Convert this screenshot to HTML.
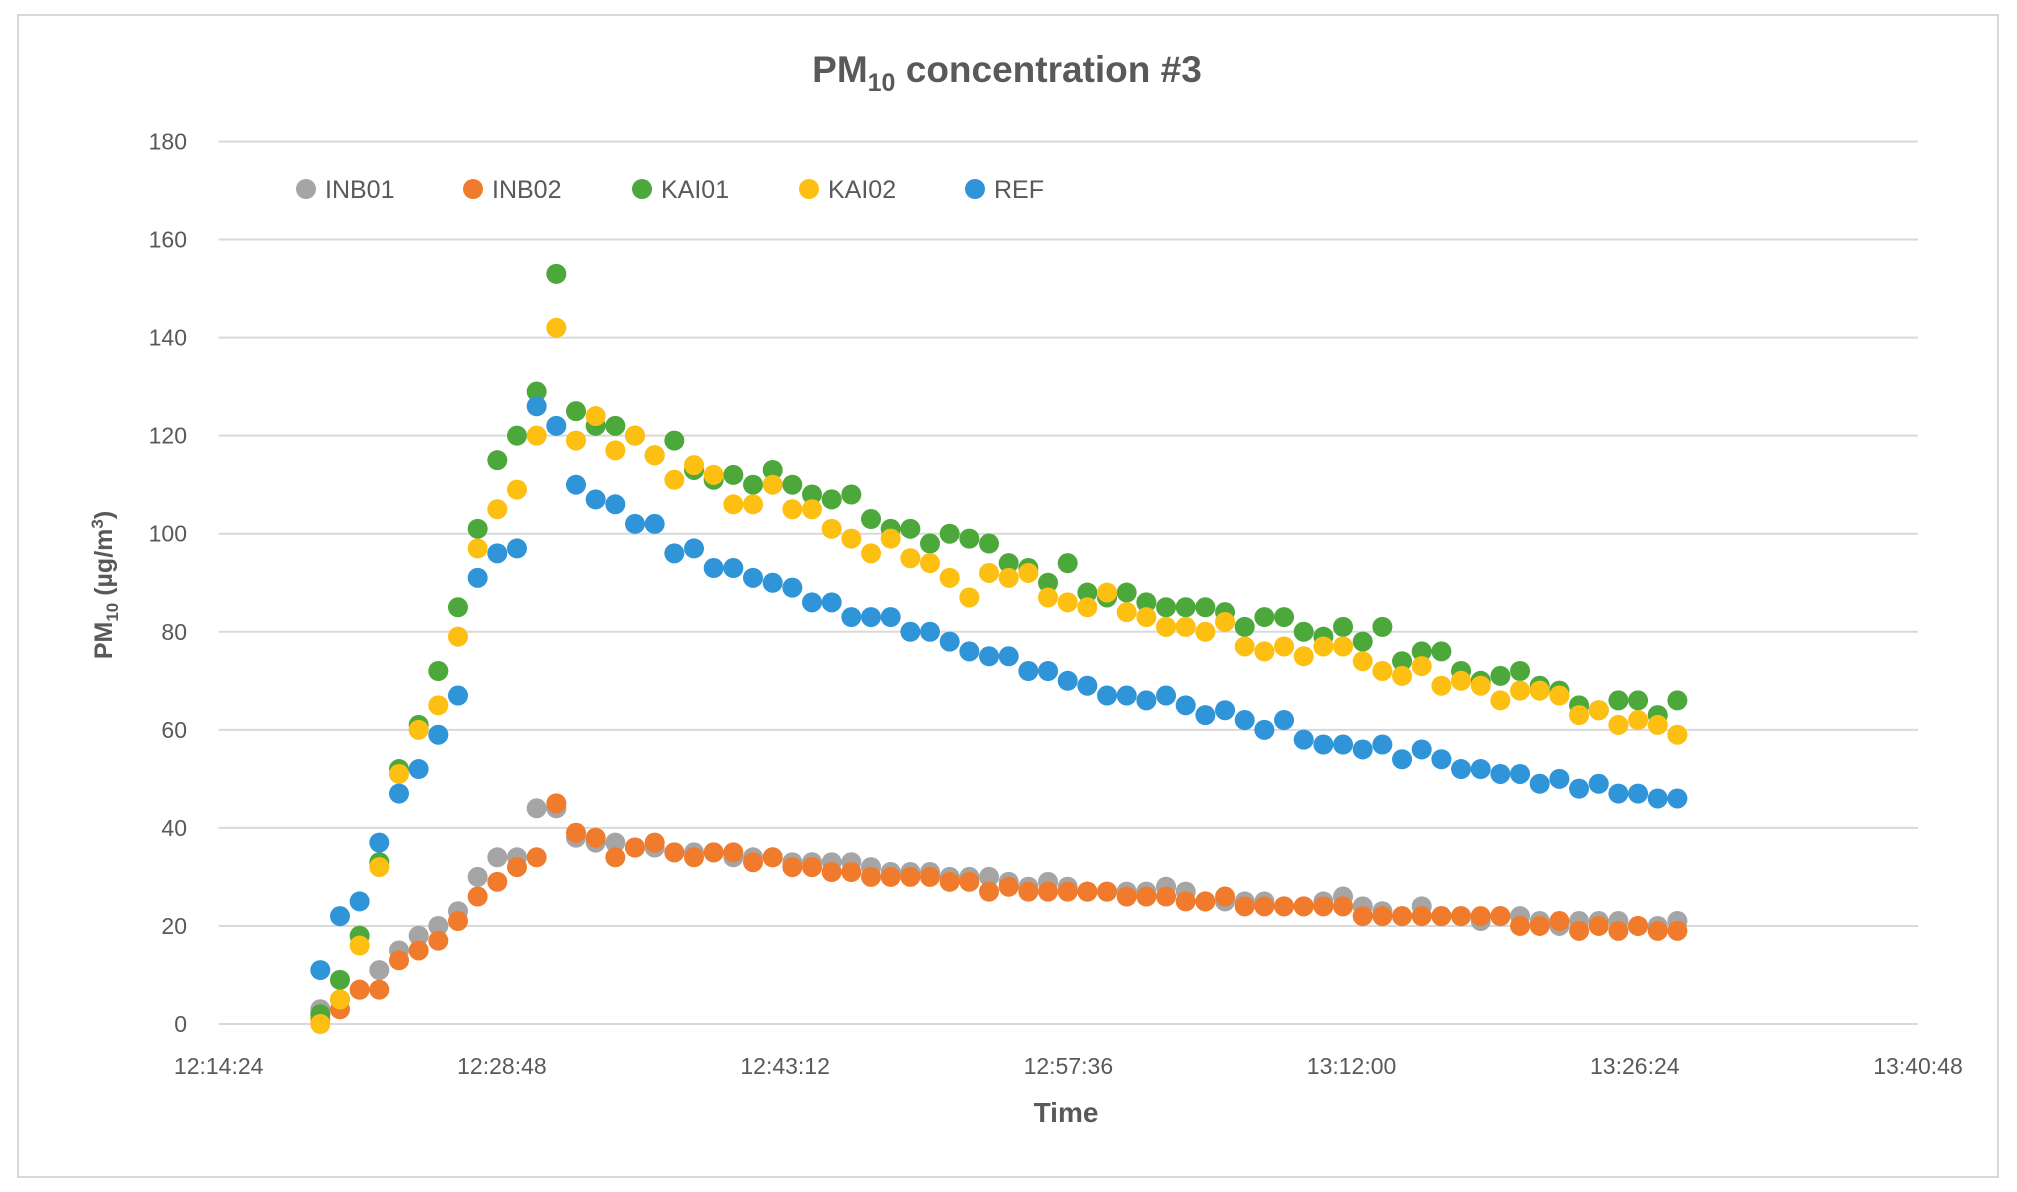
<!DOCTYPE html>
<html><head><meta charset="utf-8">
<style>
html,body{margin:0;padding:0;background:#fff;}
svg{display:block;font-family:"Liberation Sans",sans-serif;}
</style></head>
<body>
<svg id="chart" width="2017" height="1192" viewBox="0 0 2017 1192" xmlns="http://www.w3.org/2000/svg">
<rect x="18" y="15" width="1980" height="1162" fill="#fff" stroke="#d9d9d9" stroke-width="2"/>
<text x="1007" y="82" text-anchor="middle" font-size="37" font-weight="bold" fill="#595959">PM<tspan font-size="25" dy="9">10</tspan><tspan dy="-9"> concentration #3</tspan></text>
<g id="grid"></g>
<g id="yticks"></g>
<g id="xticks"></g>
<text x="1066" y="1122" text-anchor="middle" font-size="28" font-weight="bold" fill="#595959">Time</text>
<text transform="translate(112,585) rotate(-90)" text-anchor="middle" font-size="25" font-weight="bold" fill="#595959">PM<tspan font-size="17" dy="6">10</tspan><tspan dy="-6"> (µg/m</tspan><tspan font-size="17" dy="-9">3</tspan><tspan dy="9">)</tspan></text>
<g id="series"></g>
<g id="legend"></g>
</svg>
<script>
const seriesNames = ["INB01","INB02","KAI01","KAI02","REF"];
const seriesColors = ["#A5A5A5","#F07B2C","#4DA83B","#FDBF12","#2F94D8"];
const yTicks = [0,20,40,60,80,100,120,140,160,180];
const xTickLabels = ["12:14:24","12:28:48","12:43:12","12:57:36","13:12:00","13:26:24","13:40:48"];
const startOffsetSec = 310;
const stepSec = 60;
const inb01 = [3,5,7,11,15,18,20,23,30,34,34,44,44,38,37,37,36,36,35,35,35,34,34,34,33,33,33,33,32,31,31,31,30,30,30,29,28,29,28,27,27,27,27,28,27,25,25,25,25,24,24,25,26,24,23,22,24,22,22,21,22,22,21,20,21,21,21,20,20,21];
const inb02 = [1,3,7,7,13,15,17,21,26,29,32,34,45,39,38,34,36,37,35,34,35,35,33,34,32,32,31,31,30,30,30,30,29,29,27,28,27,27,27,27,27,26,26,26,25,25,26,24,24,24,24,24,24,22,22,22,22,22,22,22,22,20,20,21,19,20,19,20,19,19];
const kai01 = [2,9,18,33,52,61,72,85,101,115,120,129,153,125,122,122,120,116,119,113,111,112,110,113,110,108,107,108,103,101,101,98,100,99,98,94,93,90,94,88,87,88,86,85,85,85,84,81,83,83,80,79,81,78,81,74,76,76,72,70,71,72,69,68,65,64,66,66,63,66];
const kai02 = [0,5,16,32,51,60,65,79,97,105,109,120,142,119,124,117,120,116,111,114,112,106,106,110,105,105,101,99,96,99,95,94,91,87,92,91,92,87,86,85,88,84,83,81,81,80,82,77,76,77,75,77,77,74,72,71,73,69,70,69,66,68,68,67,63,64,61,62,61,59];
const ref = [11,22,25,37,47,52,59,67,91,96,97,126,122,110,107,106,102,102,96,97,93,93,91,90,89,86,86,83,83,83,80,80,78,76,75,75,72,72,70,69,67,67,66,67,65,63,64,62,60,62,58,57,57,56,57,54,56,54,52,52,51,51,49,50,48,49,47,47,46,46];
const allSeries = [inb01,inb02,kai01,kai02,ref];

const NS="http://www.w3.org/2000/svg";
const PL=218.7, PR=1918, PB=1024, PT=141.5;
const X_SPAN = 6*864, Y_MAX=180;
function xScale(sec){return PL+(sec/X_SPAN)*(PR-PL);}
function yScale(v){return PB-(v/Y_MAX)*(PB-PT);}
function mk(tag,attrs,parent){const e=document.createElementNS(NS,tag);for(const k in attrs)e.setAttribute(k,attrs[k]);parent.appendChild(e);return e;}

const grid=document.getElementById('grid'), yt=document.getElementById('yticks'), xt=document.getElementById('xticks');
yTicks.forEach(v=>{
  const l=mk('line',{x1:PL,x2:PR,y1:yScale(v),y2:yScale(v),stroke:'#d9d9d9','stroke-width':2},grid);
  
  
  const t=mk('text',{x:187,y:yScale(v)+8,'text-anchor':'end','font-size':23,fill:'#595959'},yt);
  t.textContent=v;
  
  
});
xTickLabels.forEach((lab,i)=>{
  const t=mk('text',{x:xScale(i*864),y:1074,'text-anchor':'middle','font-size':23,fill:'#595959'},xt);
  t.textContent=lab;
  
  
});
const sg=document.getElementById('series');
allSeries.forEach((arr,si)=>{
  const g=mk('g',{fill:seriesColors[si]},sg);
  
  
  arr.forEach((v,i)=>{
    const c=mk('circle',{cx:xScale(startOffsetSec+i*stepSec),cy:yScale(v),r:10},g);
    
    
  });
});
const lg=document.getElementById('legend');
const legX=[306,473,642,809,975];
seriesNames.forEach((n,i)=>{
  const g=mk('g',{},lg);
  
  
  mk('circle',{cx:legX[i],cy:189,r:10,fill:seriesColors[i]},g);
  const t=mk('text',{x:legX[i]+19,y:198,'font-size':25,fill:'#595959'},g);
  t.textContent=n;
});
</script>
</body></html>
